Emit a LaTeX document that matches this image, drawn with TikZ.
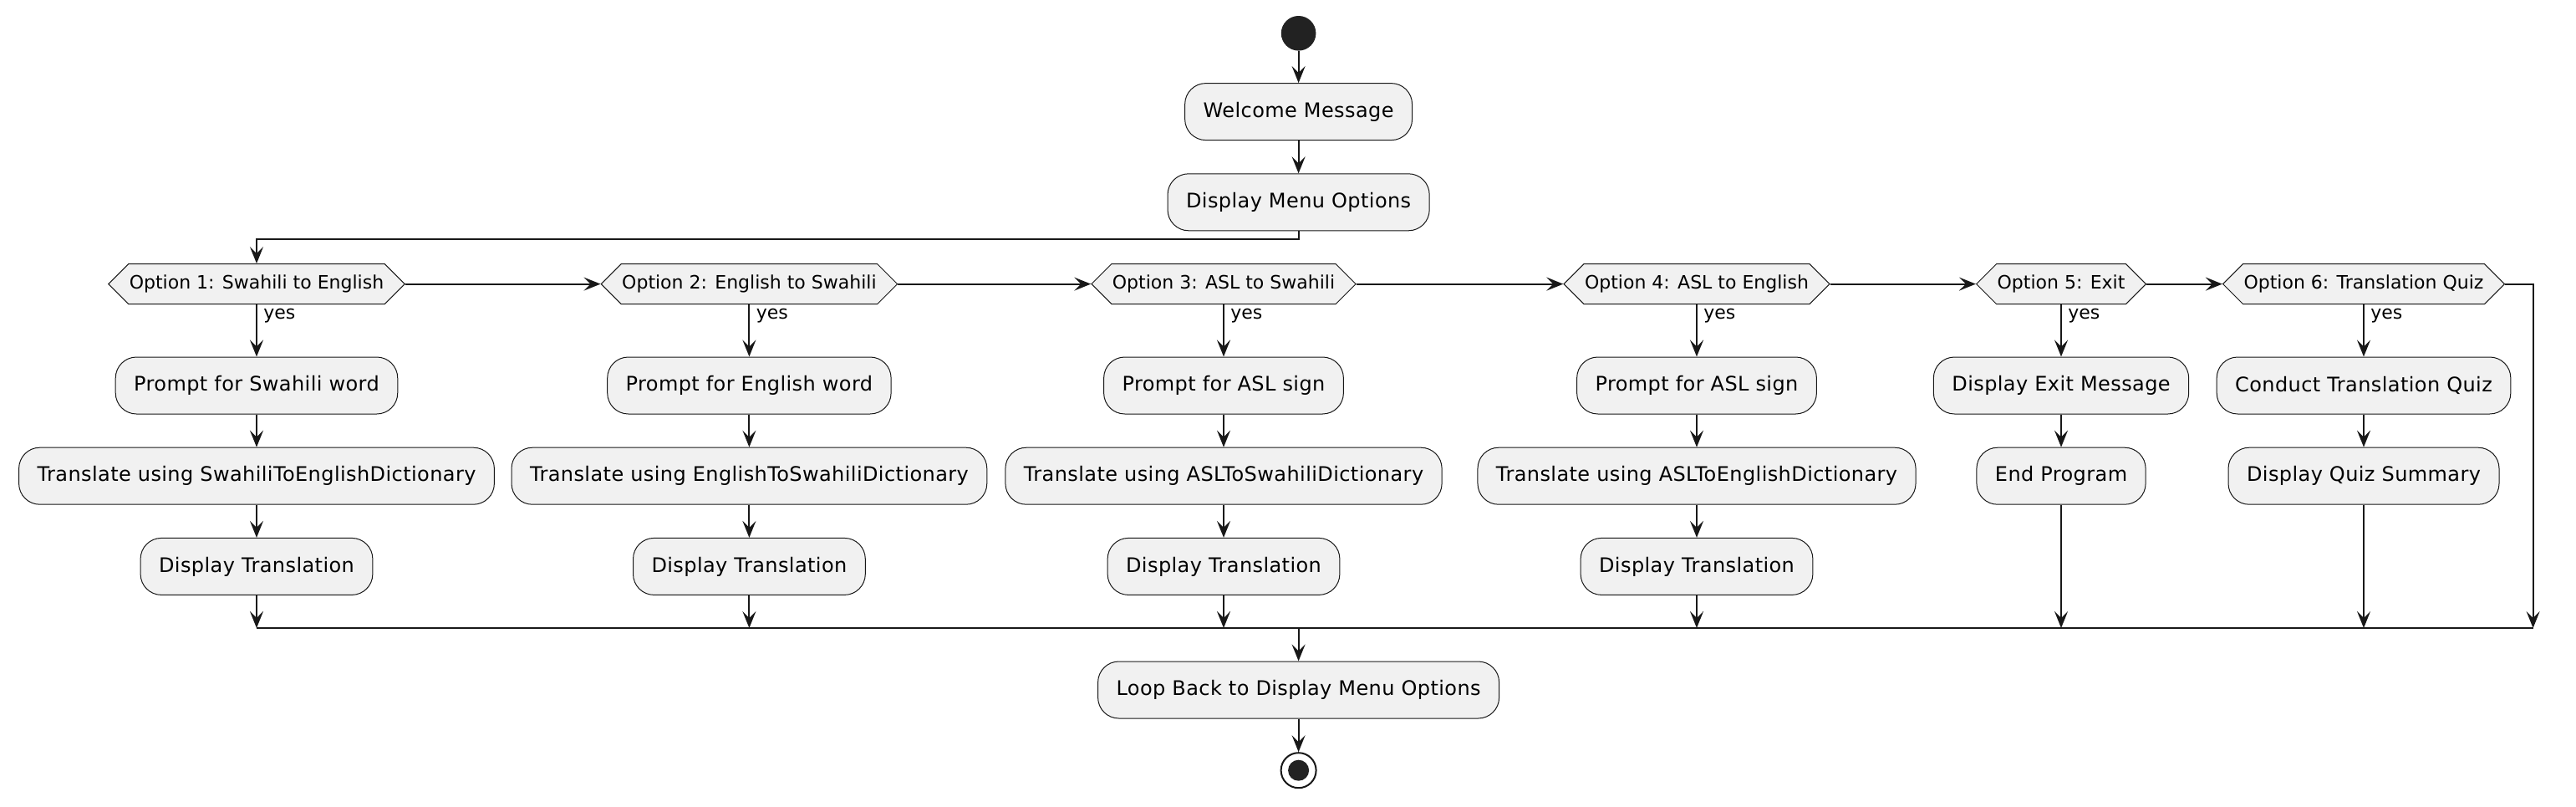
\documentclass[tikz,border=0pt]{standalone}
\usepackage{fontspec}
\setmainfont{DejaVu Sans}
\newfontfamily\actfont[LetterSpace=1.7]{DejaVu Sans}
\usetikzlibrary{positioning,arrows.meta,shapes.symbols}
\definecolor{boxfill}{HTML}{F1F1F1}
\definecolor{linecol}{HTML}{181818}
\definecolor{dotcol}{HTML}{222222}

\begin{document}
\begin{tikzpicture}[x=1pt,y=-1pt,
  act/.style={draw=linecol,fill=boxfill,line width=0.5pt,rounded corners=12.5pt,minimum height=34pt,inner xsep=11pt,inner ysep=0pt,font=\actfont\fontsize{12}{14}\selectfont},
  opt/.style={signal,signal to=east and west,draw=linecol,fill=boxfill,line width=0.5pt,minimum height=24pt,inner xsep=0.5pt,inner ysep=0pt,font=\fontsize{11}{13}\selectfont},
  flow/.style={-{Stealth[length=10pt,width=8pt,inset=4pt]},draw=linecol,line width=1pt},
  yeslbl/.style={font=\fontsize{11}{13}\selectfont,anchor=base west,inner sep=0pt}]
\useasboundingbox (0,0) rectangle (1541,482);

\node[circle,fill=dotcol,minimum size=20.8pt,inner sep=0pt] (start) at (776.8,19.9) {};
\node[act] (welcome) at (776.8,66.8) {Welcome Message};
\node[act] (menu) at (776.8,120.9) {Display Menu Options};

\node[opt] (o1) at (153.5,169.8) {Option 1: Swahili to English};
\node[opt] (o2) at (448.2,169.8) {Option 2: English to Swahili};
\node[opt] (o3) at (732,169.8) {Option 3: ASL to Swahili};
\node[opt] (o4) at (1015,169.8) {Option 4: ASL to English};
\node[opt] (o5) at (1233,169.8) {Option 5: Exit};
\node[opt] (o6) at (1414,169.8) {Option 6: Translation Quiz};

\node[act] (p1) at (153.5,230.5) {Prompt for Swahili word};
\node[act] (t1) at (153.5,284.6) {Translate using SwahiliToEnglishDictionary};
\node[act] (d1) at (153.5,338.7) {Display Translation};
\node[act] (p2) at (448.2,230.5) {Prompt for English word};
\node[act] (t2) at (448.2,284.6) {Translate using EnglishToSwahiliDictionary};
\node[act] (d2) at (448.2,338.7) {Display Translation};
\node[act] (p3) at (732,230.5) {Prompt for ASL sign};
\node[act] (t3) at (732,284.6) {Translate using ASLToSwahiliDictionary};
\node[act] (d3) at (732,338.7) {Display Translation};
\node[act] (p4) at (1015,230.5) {Prompt for ASL sign};
\node[act] (t4) at (1015,284.6) {Translate using ASLToEnglishDictionary};
\node[act] (d4) at (1015,338.7) {Display Translation};
\node[act] (exmsg) at (1233,230.5) {Display Exit Message};
\node[act] (endprog) at (1233,284.6) {End Program};
\node[act] (quiz) at (1414,230.5) {Conduct Translation Quiz};
\node[act] (summ) at (1414,284.6) {Display Quiz Summary};

\node[act] (loop) at (776.8,412.5) {Loop Back to Display Menu Options};
\node[circle,draw=linecol,line width=1pt,minimum size=21pt,inner sep=0pt] (stop) at (776.8,460.6) {};
\node[circle,fill=dotcol,minimum size=12.5pt,inner sep=0pt] (stopdot) at (stop) {};

\coordinate (m1) at (153.5,375.5);
\coordinate (m2) at (448.2,375.5);
\coordinate (m3) at (732,375.5);
\coordinate (m4) at (1015,375.5);
\coordinate (m5) at (1233,375.5);
\coordinate (m6) at (1414,375.5);
\coordinate (mc) at (776.8,375.5);
\coordinate (mr) at (1515.3,375.5);

\draw[flow] (start) -- (welcome);
\draw[flow] (welcome) -- (menu);
\draw[flow] (menu.south) -- ++(0,5) -| (o1.north);
\draw[flow] (o1.east) -- (o2.west);
\draw[flow] (o2.east) -- (o3.west);
\draw[flow] (o3.east) -- (o4.west);
\draw[flow] (o4.east) -- (o5.west);
\draw[flow] (o5.east) -- (o6.west);
\draw[flow] (o6.east) -| (mr);

\foreach \o/\p in {o1/p1,o2/p2,o3/p3,o4/p4,o5/exmsg,o6/quiz}{
  \draw[flow] (\o.south) -- (\p.north);
  \node[yeslbl] at ([shift={(4,8.7)}]\o.south) {yes};
}
\draw[flow] (p1) -- (t1);
\draw[flow] (t1) -- (d1);
\draw[flow] (p2) -- (t2);
\draw[flow] (t2) -- (d2);
\draw[flow] (p3) -- (t3);
\draw[flow] (t3) -- (d3);
\draw[flow] (p4) -- (t4);
\draw[flow] (t4) -- (d4);
\draw[flow] (exmsg) -- (endprog);
\draw[flow] (quiz) -- (summ);

\draw[flow] (d1) -- (m1);
\draw[flow] (d2) -- (m2);
\draw[flow] (d3) -- (m3);
\draw[flow] (d4) -- (m4);
\draw[flow] (endprog) -- (m5);
\draw[flow] (summ) -- (m6);
\draw[linecol,line width=1pt] (m1) -- (mr);
\draw[flow] (mc) -- (loop);
\draw[flow] (loop) -- (stop);
\end{tikzpicture}
\end{document}
